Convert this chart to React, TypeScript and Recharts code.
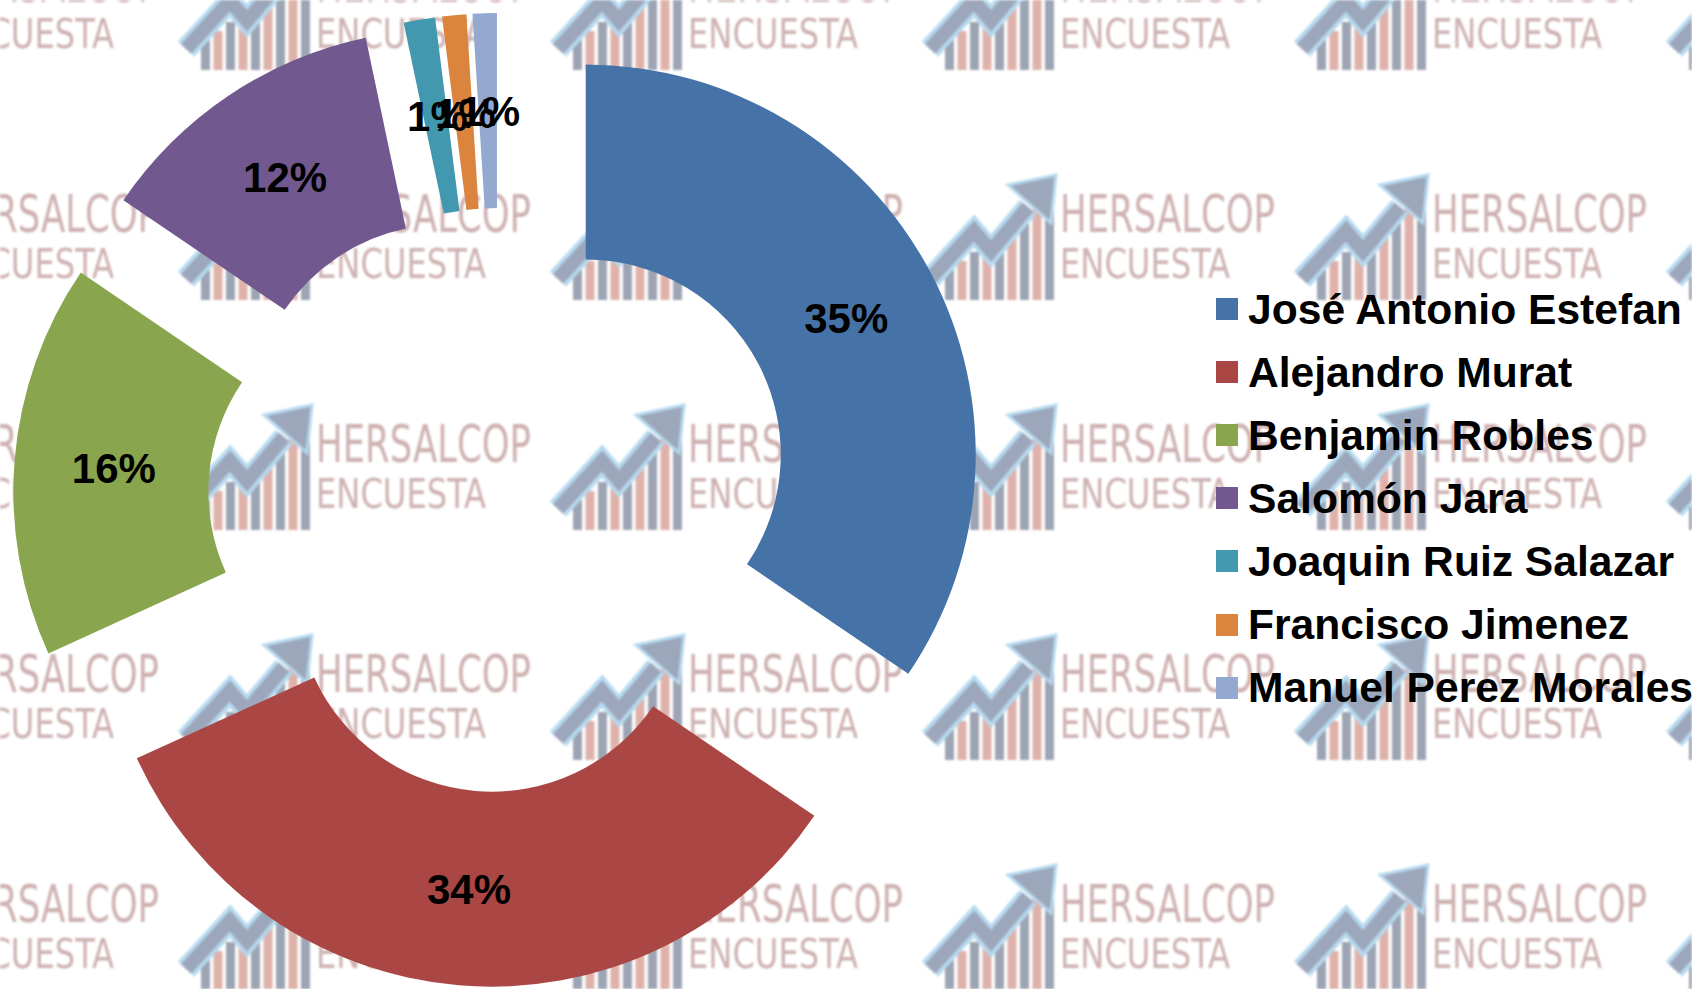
import React from "react";
import { PieChart, Pie, Cell, Legend } from "recharts";

const candidates = [
  "José Antonio Estefan",
  "Alejandro Murat",
  "Benjamin Robles",
  "Salomón Jara",
  "Joaquin Ruiz Salazar",
  "Francisco Jimenez",
  "Manuel Perez Morales",
];
const shares = [34.5, 33.7, 16.3, 12.2, 1.3, 1.0, 1.0];
const colors = ["#4572A7", "#AA4643", "#89A54E", "#71588F", "#4198AF", "#DB843D", "#93A9CF"];

const W = 1692;
const H = 989;
const CX = 500;
const CY = 500;
const INNER = 195;
const OUTER = 390;
const EXPLODE = 97;
const RADIAN = Math.PI / 180;
const FONT = "'Liberation Sans', Arial, Helvetica, sans-serif";

const data = candidates.map((name, i) => ({ name, value: shares[i] }));
const total = shares.reduce((a, b) => a + b, 0);

// every slice is pulled out along its own bisector
const offsets = shares.map((v, i) => {
  const before = shares.slice(0, i).reduce((a, b) => a + b, 0);
  const mid = ((before + v / 2) / total) * 360;
  return { dx: EXPLODE * Math.sin(mid * RADIAN), dy: -EXPLODE * Math.cos(mid * RADIAN) };
});

const renderLabel = (p: any) => {
  const { cx, cy, midAngle, innerRadius, outerRadius, percent, index } = p;
  const r = (innerRadius + outerRadius) / 2;
  const x = cx + offsets[index].dx + r * Math.cos(-midAngle * RADIAN) + 2;
  const y = cy + offsets[index].dy + r * Math.sin(-midAngle * RADIAN) + 1;
  return (
    <text
      x={x}
      y={y}
      textAnchor="middle"
      dominantBaseline="central"
      fontSize={42}
      fontWeight="bold"
      fontFamily={FONT}
      fill="#000"
    >
      {Math.round(percent * 100 + 1e-6)}%
    </text>
  );
};

const renderLegend = () => (
  <div style={{ fontFamily: FONT, fontWeight: 700, fontSize: 42.6, color: "#000" }}>
    {candidates.map((name, i) => (
      <div
        key={name}
        style={{ display: "flex", alignItems: "center", height: 63.1, whiteSpace: "nowrap" }}
      >
        <span style={{ width: 22, height: 22, background: colors[i], marginRight: 10, flex: "none" }} />
        <span>{name}</span>
      </div>
    ))}
  </div>
);

// faded "HERSALCOP ENCUESTA" logo tiles behind the chart
function Tile({ x, y }: { x: number; y: number }) {
  const T = y - 19;
  const bars = Array.from({ length: 9 }, (_, i) => i);
  const arrow = `${x + 2},${T + 104} ${x + 46},${T + 56} ${x + 63},${T + 76} ${x + 100},${T + 32}`;
  return (
    <g>
      {bars.map((i) => {
        const h = 30 + i * 9;
        return (
          <rect
            key={i}
            x={x + 17 + 12.5 * i}
            y={T + 125 - h}
            width={9}
            height={h}
            fill={i % 2 ? "#d9a49c" : "#8c95a6"}
          />
        );
      })}
      <polyline points={arrow} fill="none" stroke="#a9d3ec" strokeWidth={22} />
      <polyline points={arrow} fill="none" stroke="#8d98b0" strokeWidth={14} />
      <polygon
        points={`${x + 80},${T + 10} ${x + 128},${T + 0} ${x + 123},${T + 48}`}
        fill="#8d98b0"
        stroke="#a9d3ec"
        strokeWidth={3}
      />
      <text
        x={x + 132}
        y={y + 38}
        fontFamily="'DejaVu Sans Condensed', 'DejaVu Sans', sans-serif"
        fontSize={52}
        textLength={215}
        lengthAdjust="spacingAndGlyphs"
        fill="#c6a3a3"
      >
        HERSALCOP
      </text>
      <text
        x={x + 132}
        y={y + 84}
        fontFamily="'DejaVu Sans Condensed', 'DejaVu Sans', sans-serif"
        fontSize={41}
        textLength={170}
        lengthAdjust="spacingAndGlyphs"
        fill="#c6a3a3"
      >
        ENCUESTA
      </text>
    </g>
  );
}

function Watermark() {
  const cols = Array.from({ length: 6 }, (_, j) => 928 + 372 * (j - 3));
  const rows = Array.from({ length: 5 }, (_, k) => 194 + 230 * (k - 1));
  return (
    <svg
      width={W}
      height={H}
      style={{ position: "absolute", left: 0, top: 0, filter: "blur(0.8px)", opacity: 0.85 }}
    >
      {rows.map((y) => cols.map((x) => <Tile key={`${x}-${y}`} x={x} y={y} />))}
    </svg>
  );
}

export default function App() {
  return (
    <div
      style={{
        position: "absolute",
        left: 0,
        top: 0,
        width: W,
        height: H,
        overflow: "hidden",
        background: "#fff",
      }}
    >
      <Watermark />
      <div style={{ position: "absolute", left: 0, top: 0 }}>
        <PieChart width={W} height={H} margin={{ top: 0, right: 0, bottom: 0, left: 0 }}>
          {data.map((_, k) => (
            <Pie
              key={k}
              data={data}
              dataKey="value"
              nameKey="name"
              cx={CX + offsets[k].dx}
              cy={CY + offsets[k].dy}
              innerRadius={INNER}
              outerRadius={OUTER}
              startAngle={90}
              endAngle={-270}
              stroke="none"
              legendType="none"
              isAnimationActive={false}
            >
              {data.map((d, i) => (
                <Cell key={d.name} fill={i === k ? colors[i] : "none"} />
              ))}
            </Pie>
          ))}
          <Pie
            data={data}
            dataKey="value"
            nameKey="name"
            cx={CX}
            cy={CY}
            innerRadius={INNER}
            outerRadius={OUTER}
            startAngle={90}
            endAngle={-270}
            stroke="none"
            fill="none"
            legendType="none"
            label={renderLabel}
            labelLine={false}
            isAnimationActive={false}
          >
            {data.map((d) => (
              <Cell key={d.name} fill="none" />
            ))}
          </Pie>
          <Legend
            layout="vertical"
            align="right"
            verticalAlign="top"
            content={renderLegend}
            wrapperStyle={{ left: 1216, top: 277.5, width: 476 }}
          />
        </PieChart>
      </div>
    </div>
  );
}
